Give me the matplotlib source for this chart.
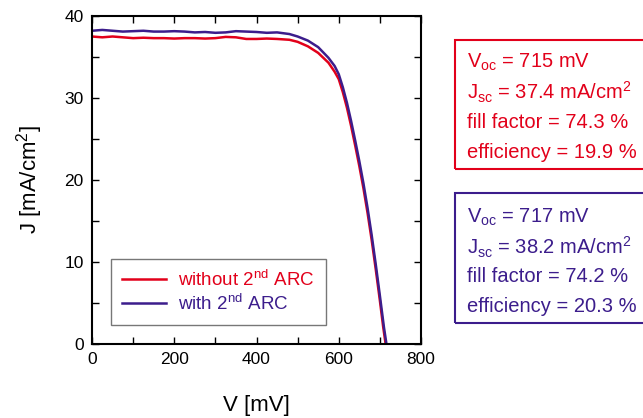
#!/usr/bin/env python3
import numpy as np
import matplotlib
matplotlib.use('Agg')
import matplotlib.pyplot as plt
from matplotlib.patches import Rectangle
from matplotlib.ticker import MultipleLocator

# J-V data, V in mV, J in mA/cm2
v_without = [0, 25, 50, 75, 100, 125, 150, 175, 200, 225, 250, 275, 300,
             325, 350, 375, 400, 425, 450, 480, 500, 525, 550, 575, 590,
             600, 610, 620, 630, 640, 650, 660, 670, 680, 690, 700, 708, 714]
j_without = [37.5, 37.4, 37.5, 37.4, 37.3, 37.35, 37.3, 37.3, 37.25, 37.3,
             37.3, 37.25, 37.3, 37.45, 37.4, 37.2, 37.2, 37.25, 37.2, 37.1,
             36.85, 36.3, 35.5, 34.3, 33.2, 32.3, 30.7, 28.8, 26.6, 24.2,
             21.7, 19.0, 16.0, 12.7, 9.1, 5.3, 2.1, 0.0]

v_with = [0, 25, 50, 75, 100, 125, 150, 175, 200, 225, 250, 275, 300,
          325, 350, 375, 400, 425, 450, 480, 500, 525, 550, 575, 590,
          600, 610, 620, 630, 640, 650, 660, 670, 680, 690, 700, 710, 716]
j_with = [38.2, 38.3, 38.2, 38.1, 38.15, 38.2, 38.1, 38.1, 38.15, 38.1,
          38.0, 38.05, 37.95, 38.0, 38.15, 38.1, 38.05, 37.95, 38.0, 37.8,
          37.5, 37.0, 36.2, 34.9, 33.9, 32.9, 31.3, 29.4, 27.2, 24.8,
          22.3, 19.6, 16.6, 13.3, 9.7, 5.9, 2.0, 0.0]

labels = ['without 2$^{\\mathrm{nd}}$ ARC', 'with 2$^{\\mathrm{nd}}$ ARC']
box_without = ['V$_{\\mathrm{oc}}$ = 715 mV',
               'J$_{\\mathrm{sc}}$ = 37.4 mA/cm$^{2}$',
               'fill factor = 74.3 %',
               'efficiency = 19.9 %']
box_with = ['V$_{\\mathrm{oc}}$ = 717 mV',
            'J$_{\\mathrm{sc}}$ = 38.2 mA/cm$^{2}$',
            'fill factor = 74.2 %',
            'efficiency = 20.3 %']

RED = '#e2001a'
PURPLE = '#3c1d8c'


def main():
    plt.rcParams['font.family'] = ['Liberation Sans', 'DejaVu Sans']
    plt.rcParams['mathtext.fontset'] = 'custom'
    plt.rcParams['mathtext.rm'] = 'Liberation Sans'
    plt.rcParams['mathtext.it'] = 'Liberation Sans:italic'

    W, H = 643, 418
    fig = plt.figure(figsize=(W / 100, H / 100), dpi=100)
    ax = fig.add_axes([92 / W, 1 - 344 / H, 329 / W, 328 / H])

    ax.plot(v_without, j_without, c=RED, lw=1.8, label=labels[0])
    ax.plot(v_with, j_with, c=PURPLE, lw=1.8, label=labels[1])

    ax.set_xlim(0, 800)
    ax.set_ylim(0, 40)
    ax.xaxis.set_major_locator(MultipleLocator(200))
    ax.xaxis.set_minor_locator(MultipleLocator(100))
    ax.yaxis.set_major_locator(MultipleLocator(10))
    ax.yaxis.set_minor_locator(MultipleLocator(5))
    for which in ('major', 'minor'):
        ax.tick_params(which=which, direction='in', length=5, width=1,
                       top=True, right=True, labelsize=12.5, pad=6)
    for sp in ax.spines.values():
        sp.set_linewidth(1.5)

    ax.set_xlabel('V [mV]', fontsize=16, labelpad=20)
    ax.set_ylabel('J [mA/cm$^{2}$]', fontsize=16, labelpad=14)

    leg = ax.legend(loc='lower left', bbox_to_anchor=(0.057, 0.058),
                    borderaxespad=0, fancybox=False, fontsize=13.5,
                    labelcolor='linecolor', handlelength=2.35,
                    handletextpad=0.65, borderpad=0.6, labelspacing=0.2)
    leg.get_frame().set_edgecolor('#555555')
    leg.get_frame().set_linewidth(1.0)

    # parameter boxes on the right (run off the figure edge)
    boxes = [(box_without, RED, 40, 169, [62, 92, 122, 152]),
             (box_with, PURPLE, 193, 323, [217, 247, 277, 306])]
    for lines, col, top, bot, rows in boxes:
        fig.patches.append(Rectangle((455 / W, 1 - bot / H), 200 / W,
                                     (bot - top) / H, transform=fig.transFigure,
                                     fill=False, edgecolor=col, lw=1.5))
        for txt, yrow in zip(lines, rows):
            fig.text(467 / W, 1 - yrow / H, txt, color=col, fontsize=14.5,
                     va='center', ha='left')

    plt.savefig('out.png', dpi=100)


if __name__ == '__main__':
    main()
